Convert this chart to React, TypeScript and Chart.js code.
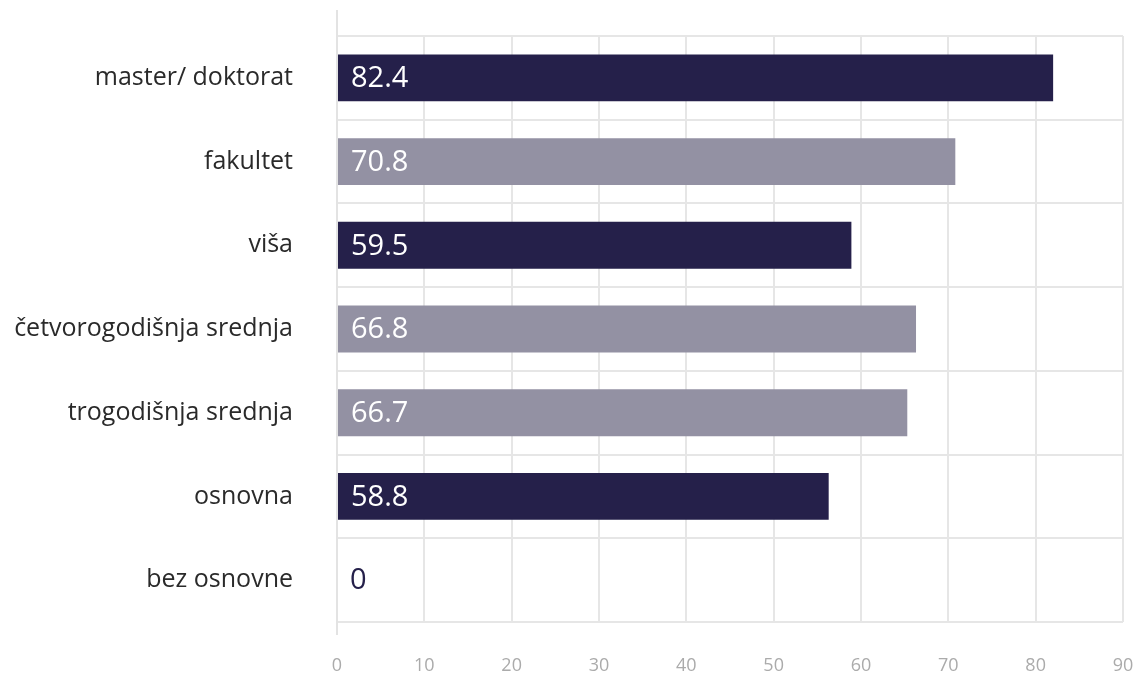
import React, { useEffect, useRef } from "react";
import { Chart, registerables } from "chart.js";

Chart.register(...registerables);

const categories = [
  "master/ doktorat",
  "fakultet",
  "viša",
  "četvorogodišnja srednja",
  "trogodišnja srednja",
  "osnovna",
  "bez osnovne",
];
const barValues = [82.0, 70.8, 58.9, 66.3, 65.3, 56.3, 0];
const valueLabels = ["82.4", "70.8", "59.5", "66.8", "66.7", "58.8", "0"];
const DARK = "#25204a";
const GREY = "#9391a3";
const barColors = [DARK, GREY, DARK, GREY, GREY, DARK, DARK];
const xTicks = [0, 10, 20, 30, 40, 50, 60, 70, 80, 90];

const FONT = "'Open Sans', 'Noto Sans', sans-serif";

const axisLinePlugin = {
  id: "axisLine",
  beforeDatasetsDraw(chart: any) {
    const { ctx, chartArea, scales } = chart;
    const x = Math.round(scales.x.getPixelForValue(0));
    ctx.save();
    ctx.strokeStyle = "#e3e3e3";
    ctx.lineWidth = 2;
    ctx.beginPath();
    ctx.moveTo(x, chartArea.top - 26);
    ctx.lineTo(x, chartArea.bottom + 13);
    ctx.stroke();
    ctx.restore();
  },
};

const labelPlugin = {
  id: "valueLabels",
  afterDatasetsDraw(chart: any) {
    const { ctx } = chart;
    const meta = chart.getDatasetMeta(0);
    ctx.save();
    ctx.font = `29px ${FONT}`;
    ctx.textBaseline = "middle";
    ctx.textAlign = "left";
    meta.data.forEach((el: any, i: number) => {
      const v = barValues[i];
      ctx.fillStyle = v > 0 ? "#ffffff" : DARK;
      ctx.fillText(valueLabels[i], el.base + 13, el.y + 1);
    });
    ctx.restore();
  },
};

const zeroPadding = (scale: any) => {
  scale.paddingLeft = 0;
  scale.paddingRight = 0;
  scale.paddingTop = 0;
  scale.paddingBottom = 0;
};

export default function App() {
  const ref = useRef<HTMLCanvasElement | null>(null);
  useEffect(() => {
    if (!ref.current) return;
    const chart = new Chart(ref.current, {
      type: "bar",
      data: {
        labels: categories,
        datasets: [
          {
            data: barValues,
            backgroundColor: barColors,
            borderWidth: 0,
            categoryPercentage: 1,
            barPercentage: 0.56,
          },
        ],
      },
      options: {
        indexAxis: "y",
        animation: false,
        responsive: false,
        maintainAspectRatio: false,
        layout: { padding: { top: 36, right: 10, bottom: 0, left: 0 } },
        plugins: {
          legend: { display: false },
          tooltip: { enabled: false },
        },
        scales: {
          x: {
            min: 0,
            max: 90,
            afterBuildTicks: (scale: any) => {
              scale.ticks = xTicks.map((v) => ({ value: v }));
            },
            grid: { color: "#e6e6e6", lineWidth: 2, drawTicks: false },
            border: { display: false },
            ticks: {
              color: "#ababab",
              font: { family: FONT, size: 18 },
              padding: 33,
            },
            afterFit: (scale: any) => {
              scale.height = 53;
              zeroPadding(scale);
            },
          },
          y: {
            grid: { color: "#e6e6e6", lineWidth: 2, drawTicks: false, offset: true },
            border: { display: false },
            ticks: {
              color: "#2a2a2a",
              font: { family: FONT, size: 25 },
              padding: 44,
            },
            afterFit: (scale: any) => {
              scale.width = 337;
              zeroPadding(scale);
            },
          },
        },
      },
      plugins: [axisLinePlugin, labelPlugin],
    });
    return () => chart.destroy();
  }, []);
  return (
    <div style={{ position: "fixed", left: 0, top: 0, width: 1133, height: 675, background: "#fff" }}>
      <canvas ref={ref} width={1133} height={675} style={{ display: "block" }} />
    </div>
  );
}
